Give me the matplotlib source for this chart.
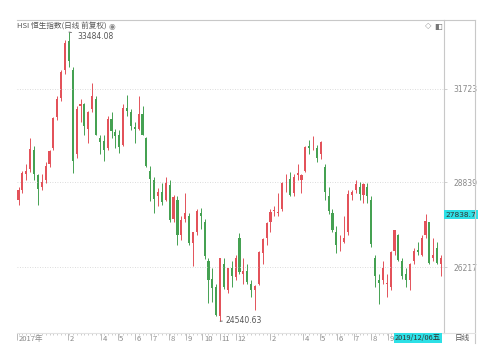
import matplotlib
matplotlib.use("Agg")
import matplotlib.pyplot as plt
from matplotlib.lines import Line2D
import matplotlib.transforms as mtransforms
import numpy as np
import pandas as pd

plt.rcParams['font.family'] = ['Noto Sans CJK SC', 'DejaVu Sans']

# weekly candles (HSI, Nov 2017 - Dec 2019)
weeks = pd.date_range('2017-11-03', periods=110, freq='W-FRI')
opens = [28300, 28600, 29100, 29250, 29850, 29050, 28700, 28900, 29400, 29900,
         30850, 31450, 32300, 33200, 32300, 29700, 31200, 31250, 30500, 31100,
         31400, 30200, 30100, 29900, 30800, 30400, 30300, 30000, 31150, 31000,
         30550, 30500, 30950, 30200, 29200, 28900, 28400, 28550, 28300, 28750,
         27700, 28300, 27200, 27700, 27800, 26950, 27300, 27900, 27600, 26400,
         25850, 25600, 24700, 26300, 25500, 26200, 25900, 27100, 26000, 26100,
         25700, 25500, 25700, 26650, 27100, 27600, 27950, 27900, 28000, 28800,
         28950, 28500, 29050, 28900, 29200, 29950, 29950, 29900, 29700, 29300,
         28400, 27900, 27300, 26950, 27000, 27300, 28450, 28600, 28700, 28450,
         28700, 28300, 26500, 25800, 25800, 25700, 25600, 26700, 27200, 26400,
         26000, 25800, 26400, 26750, 26600, 27200, 27600, 26500, 26800, 26300]
highs = [28700, 29200, 29400, 30200, 29950, 29100, 29100, 29450, 29850, 30850,
         31500, 32300, 33250, 33484.08, 32400, 31200, 31400, 31300, 31050, 31900,
         31500, 30300, 30300, 30900, 31000, 30500, 30450, 31250, 31550, 31100,
         30700, 31500, 31200, 30250, 29350, 29000, 28650, 28800, 29000, 28900,
         28450, 28400, 27800, 28500, 27900, 27300, 28000, 28050, 27700, 26500,
         26200, 25700, 26500, 26500, 26200, 26400, 26600, 27260, 26500, 26300,
         25800, 25650, 26700, 27100, 27600, 28000, 28100, 28500, 28850, 29100,
         29150, 29100, 29400, 29100, 29950, 30150, 30280, 30000, 30100, 29400,
         28700, 28000, 27500, 27200, 27800, 28600, 28600, 28900, 28850, 28800,
         28800, 28400, 26600, 26000, 26400, 26000, 26700, 27350, 27250, 26500,
         26200, 26350, 26800, 27000, 27200, 27850, 27600, 27100, 27000, 26600]
lows = [28150, 28500, 28900, 29150, 28900, 28150, 28600, 28800, 29300, 29850,
        30750, 31350, 32200, 32400, 29130, 29600, 30700, 30300, 30050, 31000,
        30300, 29700, 29500, 29850, 30200, 29900, 29750, 29950, 30900, 30450,
        30050, 30450, 30300, 29300, 28250, 27900, 28100, 28150, 28250, 27600,
        27600, 26900, 27050, 27600, 26900, 26250, 27200, 27400, 26450, 25100,
        25150, 24700, 24540.63, 25550, 25400, 25600, 25800, 26000, 25700, 25700,
        25300, 24900, 25650, 26300, 26900, 27300, 27800, 27800, 27950, 28550,
        28400, 28400, 28900, 28500, 29150, 29700, 29850, 29450, 29550, 28300,
        27850, 27300, 26650, 26700, 26950, 27200, 28300, 28500, 28300, 28200,
        28200, 26850, 25600, 25060, 25700, 25300, 25500, 26600, 26400, 25850,
        25600, 25500, 26300, 26600, 26550, 27100, 26300, 26400, 26300, 25950]
closes = [28600, 29120, 29200, 29870, 29080, 28640, 28850, 29350, 29800, 30815,
          31410, 32250, 33150, 32600, 29500, 31115, 31270, 30580, 31000, 31500,
          30310, 30090, 29840, 30810, 30420, 30280, 29930, 31120, 31050, 30590,
          30490, 30960, 30310, 29340, 28950, 28320, 28530, 28220, 28800, 27680,
          28370, 27210, 27670, 27890, 26970, 27290, 27950, 27790, 26570, 25800,
          25560, 24720, 26490, 25600, 26180, 25930, 26510, 26060, 26090, 25750,
          25500, 25630, 26670, 27090, 27570, 27930, 27990, 27900, 28820, 28810,
          28450, 29010, 29110, 29050, 29940, 29910, 29960, 29600, 30080, 28550,
          27950, 27350, 26900, 26970, 27120, 28470, 28540, 28780, 28470, 28770,
          28400, 26920, 25940, 25730, 26180, 25720, 26690, 27350, 26440, 25950,
          25820, 26310, 26720, 26670, 27100, 27650, 26330, 26600, 26350, 26500]

y_ticks = [26217, 28839, 31723]
month_dates = ['2017-11-01', '2018-02-01', '2018-04-01', '2018-05-01', '2018-06-01',
               '2018-07-01', '2018-08-01', '2018-09-01', '2018-10-01', '2018-11-01',
               '2018-12-01', '2019-02-01', '2019-04-01', '2019-05-01', '2019-06-01',
               '2019-07-01', '2019-08-01', '2019-09-01']
month_labels = ['2017年', '2', '4', '5', '6', '7', '8', '9', '10', '11', '12',
                '2', '4', '5', '6', '7', '8', '9']
cursor_price = 27838.7
cursor_date = '2019/12/06五'
max_idx, max_txt = 13, '33484.08'
min_idx, min_txt = 52, '24540.63'

up_col = '#e3525a'
down_col = '#45a152'
line_col = '#c8c8c8'
txt_col = '#8a8a8a'

o = np.array(opens, float)
h = np.array(highs, float)
l = np.array(lows, float)
c = np.array(closes, float)
x = ((weeks - weeks[0]).days / 7.0).to_numpy()
cols = np.where(c >= o, up_col, down_col)

W, H = 500, 353
fig = plt.figure(figsize=(W / 100, H / 100), dpi=100)
ax = fig.add_axes([17 / W, 20 / H, 427 / W, 313 / H])

ax.vlines(x, l, h, colors=cols, linewidth=0.7)
ax.bar(x, np.maximum(np.abs(c - o), 15), bottom=np.minimum(o, c),
       width=0.55, color=cols, linewidth=0)

ax.set_xlim(-0.39, 109.77)
ax.set_ylim(24176, 33857)

ax.yaxis.tick_right()
ax.set_yticks(y_ticks)
ax.set_yticklabels([str(v) for v in y_ticks], fontsize=5.5, color=txt_col,
                   family=['DejaVu Sans'])
ax.tick_params(axis='y', length=2.5, width=0.6, color=line_col, pad=4)
ax.grid(axis='y', linestyle=(0, (1, 2)), color='#d0d0d0', linewidth=0.6)

mx = ((pd.to_datetime(month_dates) - weeks[0]).days / 7.0).to_numpy()
ax.set_xticks(mx)
ax.set_xticklabels([])
ax.set_xticks(x, minor=True)
ax.tick_params(axis='x', which='major', length=5, width=0.6, color='#b0b0b0',
               direction='out')
ax.tick_params(axis='x', which='minor', length=1.5, width=0.5, color='#b8b8b8',
               direction='out')
tr = mtransforms.blended_transform_factory(ax.transData, ax.transAxes)
for px, lab in zip(mx, month_labels):
    ax.text(px + 0.4, -0.018, lab, transform=tr, ha='left', va='center',
            fontsize=5.5, color=txt_col)

ax.spines['left'].set_visible(False)
for side in ['top', 'right', 'bottom']:
    ax.spines[side].set_color(line_col)
    ax.spines[side].set_linewidth(0.8)
ax.spines['bottom'].set_color('#e2e2e2')

# frame pieces outside the plot area
fig.add_artist(Line2D([444 / W, 475 / W], [1 - 20 / H, 1 - 20 / H], color=line_col, lw=0.8))
fig.add_artist(Line2D([475 / W, 475 / W], [1 - 20 / H, 1 - 343 / H], color=line_col, lw=0.8))
fig.add_artist(Line2D([444 / W, 475 / W], [1 - 333 / H, 1 - 333 / H], color='#e2e2e2', lw=0.8))

# max / min annotations
ax.annotate(max_txt, xy=(x[max_idx], h[max_idx]), xytext=(x[max_idx] + 2.1, 33362),
            fontsize=5.5, color='#555555', va='center', family=['DejaVu Sans'],
            arrowprops=dict(arrowstyle='-', color='#555555', lw=0.6))
ax.annotate(min_txt, xy=(x[min_idx], l[min_idx]), xytext=(x[min_idx] + 1.3, 24578),
            fontsize=5.5, color='#555555', va='center', family=['DejaVu Sans'],
            arrowprops=dict(arrowstyle='-', color='#555555', lw=0.6))

# title and icons
fig.text(17 / W, 1 - 26 / H, 'HSI 恒生指数(日线 前复权)', fontsize=5.5, color='#555555',
         ha='left', va='center')
fig.text(109 / W, 1 - 26 / H, '◉', fontsize=5.5, color='#888888', ha='left', va='center',
         family=['DejaVu Sans'])
fig.text(428 / W, 1 - 26 / H, '◇', fontsize=6, color='#999999', ha='center', va='center',
         family=['DejaVu Sans'])
fig.text(438 / W, 1 - 26 / H, '◧', fontsize=6, color='#777777', ha='center', va='center',
         family=['DejaVu Sans'])

# cursor labels
ytr = mtransforms.blended_transform_factory(ax.transAxes, ax.transData)
ax.text(1.004, cursor_price, '%.1f' % cursor_price, transform=ytr, ha='left', va='center',
        fontsize=5.3, color='#333333', family=['DejaVu Sans'],
        bbox=dict(boxstyle='square,pad=0.2', fc='#2de0e6', ec='none'))
fig.text(418 / W, 1 - 338 / H, cursor_date, fontsize=5.3, color='#333333',
         ha='center', va='center',
         bbox=dict(boxstyle='square,pad=0.15', fc='#2de0e6', ec='none'))
fig.text(462 / W, 1 - 338 / H, '日线', fontsize=5.5, color='#555555', ha='center',
         va='center')

fig.savefig('out.png', dpi=100)
